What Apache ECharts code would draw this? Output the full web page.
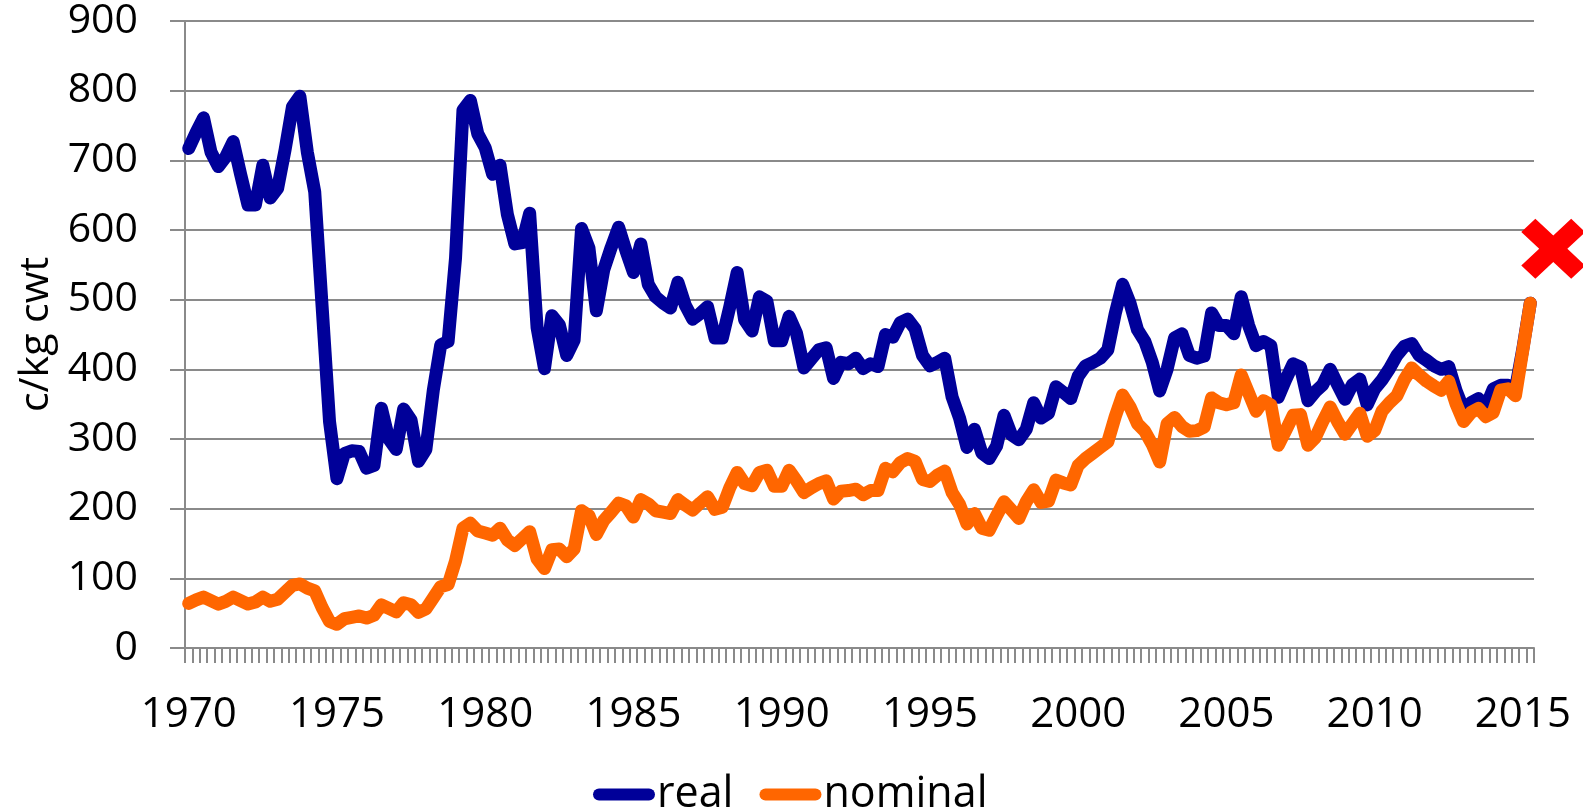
<!DOCTYPE html>
<html>
<head>
<meta charset="utf-8">
<title>c/kg cwt</title>
<script src="https://cdn.jsdelivr.net/npm/echarts@6/dist/echarts.min.js"></script>
<style>
  html, body { margin: 0; padding: 0; background: #fff; }
  #chart { width: 1583px; height: 809px; }
</style>
</head>
<body>
<div id="chart"></div>
<script>
// quarterly, 1970 Q1 .. 2015 Q2
const quarters = [];
for (let y = 1970; y <= 2015; y++) {
  for (let q = 1; q <= 4; q++) quarters.push(y + ' Q' + q);
}
quarters.length = 182;

const real = [
  717, 740, 761, 712, 691, 705, 727, 680, 636, 636,
  693, 646, 660, 715, 777, 792, 712, 655, 490, 325,
  243, 279, 283, 282, 258, 262, 344, 300, 285, 343,
  327, 268, 285, 370, 435, 440, 560, 772, 786, 738,
  718, 680, 693, 622, 580, 582, 624, 460, 401, 477,
  464, 420, 442, 602, 574, 484, 543, 575, 604, 570,
  539, 580, 522, 504, 495, 488, 525, 492, 472, 480,
  490, 445, 445, 490, 539, 471, 455, 504, 498, 441,
  441, 476, 452, 402, 415, 428, 431, 387, 410, 408,
  416, 401, 408, 404, 450, 446, 467, 472, 458, 420,
  405, 410, 416, 360, 330, 288, 314, 280, 272, 290,
  334, 306, 299, 314, 352, 330, 337, 375, 367, 358,
  390, 405, 410, 416, 428, 480, 522, 495, 457, 440,
  410, 369, 400, 445, 451, 420, 416, 419, 481, 463,
  463, 451, 504, 463, 434, 440, 434, 360, 385, 408,
  403, 355, 368, 378, 400, 378, 357, 378, 386, 349,
  372, 385, 401, 420, 433, 437, 420, 413, 405, 400,
  404, 369, 342, 352, 358, 346, 372, 377, 377, 372,
  430, 495
];

const nominal = [
  64, 69, 73, 68, 63, 67, 73, 68, 63, 66,
  73, 67, 70, 80, 90, 92, 86, 82, 58, 38,
  34, 42, 44, 46, 43, 47, 62, 57, 52, 65,
  62, 51, 56, 72, 88, 91, 125, 172, 179, 168,
  165, 162, 172, 155, 147, 157, 167, 128, 114, 141,
  142, 131, 142, 197, 190, 163, 183, 195, 208, 204,
  188, 213, 207, 197, 195, 193, 213, 205, 198, 208,
  217, 199, 202, 230, 252, 236, 233, 252, 255, 232,
  232, 255, 240, 223, 230, 236, 240, 214, 225, 226,
  228, 220, 226, 226, 258, 253, 266, 272, 268, 242,
  239, 248, 254, 223, 206, 178, 193, 172, 169, 190,
  210, 198, 186, 210, 227, 209, 211, 241, 237, 234,
  262, 272, 280, 288, 296, 332, 363, 346, 322, 311,
  292, 267, 322, 331, 318, 311, 312, 317, 359, 352,
  349, 352, 392, 366, 340, 355, 349, 291, 312, 334,
  335, 291, 302, 325, 346, 325, 307, 322, 337, 304,
  312, 340, 352, 362, 385, 402, 392, 383, 376, 370,
  383, 350, 325, 338, 344, 332, 338, 370, 372, 362,
  428, 495
];

// red cross to the right of the last quarter (position in quarters from 1970 Q1, value)
const forecast = [[184.6, 573]];

const gray = '#8a8a8a';
const font = 'Open Sans';

const chart = echarts.init(document.getElementById('chart'));
chart.setOption({
  animation: false,
  textStyle: { fontFamily: font, color: '#000' },
  grid: { left: 185, right: 49, top: 21, bottom: 161 },
  legend: {
    data: ['real', 'nominal'],
    left: 593,
    top: 773,
    padding: 0,
    itemGap: 26,
    itemWidth: 62,
    itemHeight: 13,
    icon: 'path://M6,0 L56,0 A6,6 0 0 1 56,12 L6,12 A6,6 0 0 1 6,0 Z',
    textStyle: { fontSize: 43, color: '#000', fontFamily: font, padding: [0, 0, 0, -3] }
  },
  xAxis: [{
    type: 'category',
    data: quarters,
    boundaryGap: true,
    axisLine: { lineStyle: { color: gray, width: 2 } },
    axisTick: { show: true, interval: 0, length: 15, lineStyle: { color: gray, width: 2 } },
    axisLabel: {
      interval: function (index) { return index % 20 === 0; },
      formatter: function (v) { return v.slice(0, 4); },
      fontSize: 42,
      margin: 46,
      color: '#000',
      fontFamily: font
    },
    splitLine: { show: false }
  }, {
    type: 'value',
    min: 0,
    max: 182,
    show: false
  }],
  yAxis: {
    type: 'value',
    min: 0,
    max: 900,
    interval: 100,
    name: 'c/kg cwt',
    nameLocation: 'middle',
    nameGap: 128,
    nameTextStyle: { fontSize: 41, color: '#000', fontFamily: font },
    axisLine: { show: true, lineStyle: { color: gray, width: 2 } },
    axisTick: { show: true, length: 15, lineStyle: { color: gray, width: 2 } },
    axisLabel: { fontSize: 41, margin: 47, color: '#000', fontFamily: font },
    splitLine: { show: true, lineStyle: { color: gray, width: 2 } }
  },
  series: [{
    name: 'real',
    type: 'line',
    data: real,
    symbol: 'none',
    color: '#000099',
    lineStyle: { width: 13, cap: 'round', join: 'round' }
  }, {
    name: 'nominal',
    type: 'line',
    data: nominal,
    symbol: 'none',
    color: '#ff6600',
    lineStyle: { width: 13, cap: 'round', join: 'round' }
  }, {
    name: 'forecast',
    type: 'scatter',
    xAxisIndex: 1,
    data: forecast,
    clip: false,
    symbol: 'path://M0,22 L22,0 L50,28 L78,0 L100,22 L72,50 L100,78 L78,100 L50,72 L22,100 L0,78 L28,50 Z',
    symbolSize: [64, 60],
    itemStyle: { color: '#ff0000', opacity: 1 },
    z: 5
  }]
});
</script>
</body>
</html>
